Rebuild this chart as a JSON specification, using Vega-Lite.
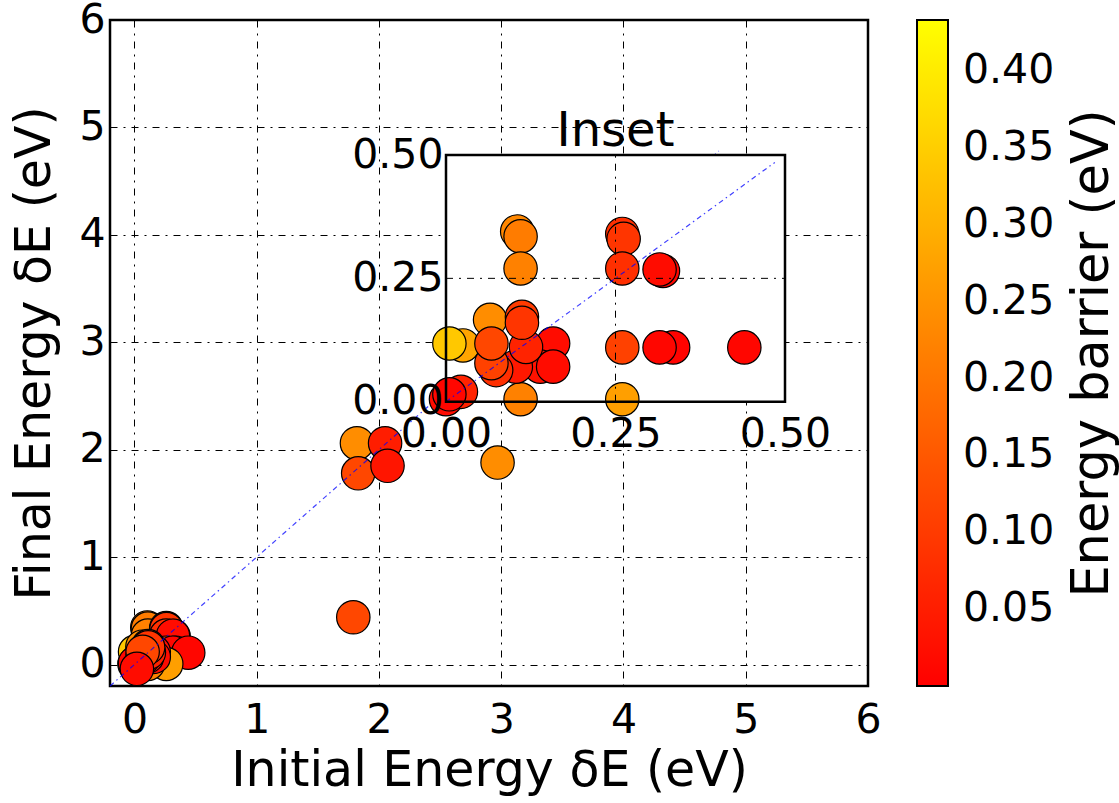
{
  "$schema": "https://vega.github.io/schema/vega-lite/v6.json",
  "width": 758,
  "height": 666,
  "autosize": {"type": "none"},
  "padding": {"left": 110, "top": 20, "right": 251, "bottom": 117},
  "background": "white",
  "config": {
    "font": "DejaVu Sans",
    "view": {"stroke": "black", "strokeWidth": 2.5},
    "axis": {
      "labelFontSize": 41, "titleFontSize": 49, "titleFontWeight": "normal",
      "labelColor": "black", "titleColor": "black", "labelFlush": false,
      "labelOverlap": false, "domain": false, "ticks": false, "tickSize": 0,
      "titleLimit": 1000, "labelLimit": 300
    }
  },
  "datasets": {
    "pts": [
      {"x": 0.105, "y": 0.345, "b": 0.23},
      {"x": 0.11, "y": 0.335, "b": 0.21},
      {"x": 0.11, "y": 0.27, "b": 0.22},
      {"x": 0.26, "y": 0.34, "b": 0.08},
      {"x": 0.262, "y": 0.33, "b": 0.09},
      {"x": 0.26, "y": 0.27, "b": 0.08},
      {"x": 0.32, "y": 0.265, "b": 0.01},
      {"x": 0.315, "y": 0.268, "b": 0.02},
      {"x": 0.26, "y": 0.11, "b": 0.11},
      {"x": 0.335, "y": 0.11, "b": 0.005},
      {"x": 0.315, "y": 0.11, "b": 0.01},
      {"x": 0.44, "y": 0.11, "b": 0.01},
      {"x": 0.26, "y": 0.005, "b": 0.27},
      {"x": 0.11, "y": 0.005, "b": 0.22},
      {"x": 0.025, "y": 0.114, "b": 0.28},
      {"x": 0.005, "y": 0.118, "b": 0.34},
      {"x": 0.0, "y": 0.005, "b": 0.02},
      {"x": 0.022, "y": 0.02, "b": 0.06},
      {"x": 0.005, "y": 0.015, "b": 0.01},
      {"x": 0.065, "y": 0.166, "b": 0.24},
      {"x": 0.112, "y": 0.172, "b": 0.10},
      {"x": 0.158, "y": 0.118, "b": 0.02},
      {"x": 0.139, "y": 0.071, "b": 0.03},
      {"x": 0.158, "y": 0.071, "b": 0.02},
      {"x": 0.103, "y": 0.071, "b": 0.04},
      {"x": 0.074, "y": 0.064, "b": 0.08},
      {"x": 0.067, "y": 0.078, "b": 0.11},
      {"x": 0.118, "y": 0.111, "b": 0.06},
      {"x": 0.112, "y": 0.16, "b": 0.09},
      {"x": 0.067, "y": 0.118, "b": 0.12},
      {"x": 0.02, "y": -0.04, "b": 0.02},
      {"x": 1.82, "y": 2.06, "b": 0.24},
      {"x": 2.05, "y": 2.06, "b": 0.05},
      {"x": 1.83, "y": 1.78, "b": 0.12},
      {"x": 2.07, "y": 1.85, "b": 0.035},
      {"x": 2.97, "y": 1.88, "b": 0.24},
      {"x": 1.79, "y": 0.44, "b": 0.12}
    ],
    "mainline": [{"x": -0.2, "y": -0.2}, {"x": 4.78, "y": 4.78}],
    "insetline": [{"x": 0, "y": 0}, {"x": 0.485, "y": 0.485}],
    "box": [{"x": 0, "y": 0, "x2": 0.5, "y2": 0.5}],
    "igrid": [
      {"x": 0.25, "y": 0, "x2": 0.25, "y2": 0.5},
      {"x": 0, "y": 0.25, "x2": 0.5, "y2": 0.25}
    ],
    "ititle": [{"x": 0.25, "y": 0.5, "label": "Inset"}]
  },
  "layer": [
    {
      "data": {"name": "pts"},
      "mark": {"type": "circle", "size": 1116, "opacity": 1, "stroke": "black", "strokeWidth": 1.2},
      "encoding": {
        "x": {
          "field": "x", "type": "quantitative",
          "scale": {"domain": [-0.2, 6], "nice": false, "zero": false},
          "axis": {
            "orient": "bottom",
            "values": [0, 1, 2, 3, 4, 5, 6], "format": "d",
            "title": "Initial Energy δE (eV)", "labelPadding": 14, "titlePadding": 6,
            "grid": true, "gridColor": "black", "gridWidth": 1, "gridOpacity": 1,
            "gridDash": [7, 6, 2, 6], "zindex": 0
          }
        },
        "y": {
          "field": "y", "type": "quantitative",
          "scale": {"domain": [-0.2, 6], "nice": false, "zero": false},
          "axis": {
            "orient": "left",
            "values": [0, 1, 2, 3, 4, 5, 6], "format": "d",
            "title": "Final Energy δE (eV)", "labelPadding": 5, "titlePadding": 19,
            "grid": true, "gridColor": "black", "gridWidth": 1, "gridOpacity": 1,
            "gridDash": [7, 6, 2, 6], "zindex": 0
          }
        },
        "color": {
          "field": "b", "type": "quantitative",
          "scale": {"domain": [0, 0.4334], "range": ["#ff0000", "#ffff00"], "interpolate": "rgb"},
          "legend": {
            "title": null, "orient": "none", "legendX": 807, "legendY": 0,
            "direction": "vertical", "gradientLength": 666, "gradientThickness": 31,
            "values": [0.05, 0.1, 0.15, 0.2, 0.25, 0.3, 0.35, 0.4], "format": ".2f",
            "labelFontSize": 41, "labelOffset": 15, "labelColor": "black",
            "labelLimit": 300,
            "gradientStrokeColor": "black", "gradientStrokeWidth": 2,
            "padding": 0, "labelOverlap": false
          }
        }
      }
    },
    {
      "data": {"name": "mainline"},
      "mark": {"type": "line", "color": "#0000ff", "opacity": 0.75, "strokeWidth": 1.2, "strokeDash": [5, 3.5, 1.5, 3.5]},
      "encoding": {
        "x": {
          "field": "x", "type": "quantitative",
          "scale": {"domain": [-0.2, 6], "nice": false, "zero": false},
          "axis": null
        },
        "y": {
          "field": "y", "type": "quantitative",
          "scale": {"domain": [-0.2, 6], "nice": false, "zero": false},
          "axis": {
            "orient": "right", "offset": 189, "labels": false, "grid": false,
            "title": "Energy barrier (eV)", "titleAngle": 270, "titleBaseline": "top",
            "titleAnchor": "middle", "titlePadding": 10, "titleFontSize": 51, "zindex": 1
          }
        }
      }
    },
    {
      "encoding": {
        "x": {
          "field": "x", "type": "quantitative",
          "scale": {"domain": [0, 0.5], "range": [336, 675], "nice": false, "zero": false},
          "axis": {
            "orient": "bottom", "offset": -284.3, "values": [0, 0.25, 0.5], "format": ".2f",
            "title": null, "grid": false, "labelPadding": 13, "zindex": 1
          }
        },
        "y": {
          "field": "y", "type": "quantitative",
          "scale": {"domain": [0, 0.5], "range": [381.7, 135], "nice": false, "zero": false},
          "axis": {
            "orient": "left", "offset": -336, "values": [0, 0.25, 0.5], "format": ".2f",
            "title": null, "grid": false, "labelPadding": 3, "zindex": 1
          }
        }
      },
      "layer": [
        {
          "data": {"name": "box"},
          "mark": {"type": "rect", "fill": "white", "strokeWidth": 0},
          "encoding": {"x2": {"field": "x2"}, "y2": {"field": "y2"}}
        },
        {
          "data": {"name": "pts"},
          "transform": [{"filter": "datum.x >= -0.01 && datum.x <= 0.51 && datum.y >= -0.01 && datum.y <= 0.51"}],
          "mark": {"type": "circle", "size": 1116, "opacity": 1, "stroke": "black", "strokeWidth": 1.2},
          "encoding": {
            "color": {
              "field": "b", "type": "quantitative",
              "scale": {"domain": [0, 0.4334], "range": ["#ff0000", "#ffff00"], "interpolate": "rgb"},
              "legend": {
                "title": null, "orient": "none", "legendX": 807, "legendY": 0,
                "direction": "vertical", "gradientLength": 666, "gradientThickness": 31,
                "values": [0.05, 0.1, 0.15, 0.2, 0.25, 0.3, 0.35, 0.4], "format": ".2f",
                "labelFontSize": 41, "labelOffset": 15, "labelColor": "black",
                "labelLimit": 300,
                "gradientStrokeColor": "black", "gradientStrokeWidth": 2,
                "padding": 0, "labelOverlap": false
              }
            }
          }
        },
        {
          "data": {"name": "insetline"},
          "mark": {"type": "line", "color": "#0000ff", "opacity": 0.75, "strokeWidth": 1.2, "strokeDash": [5, 3.5, 1.5, 3.5]},
          "encoding": {}
        },
        {
          "data": {"name": "igrid"},
          "mark": {"type": "rule", "color": "black", "strokeWidth": 1, "strokeDash": [7, 6, 2, 6]},
          "encoding": {"x2": {"field": "x2"}, "y2": {"field": "y2"}}
        },
        {
          "data": {"name": "box"},
          "mark": {"type": "rect", "fillOpacity": 0, "stroke": "black", "strokeWidth": 2.5},
          "encoding": {"x2": {"field": "x2"}, "y2": {"field": "y2"}}
        },
        {
          "data": {"name": "ititle"},
          "mark": {"type": "text", "fontSize": 48, "baseline": "alphabetic", "align": "center", "dy": -9, "color": "black"},
          "encoding": {"text": {"field": "label"}}
        }
      ]
    }
  ],
  "resolve": {"scale": {"x": "independent", "y": "independent"}}
}
